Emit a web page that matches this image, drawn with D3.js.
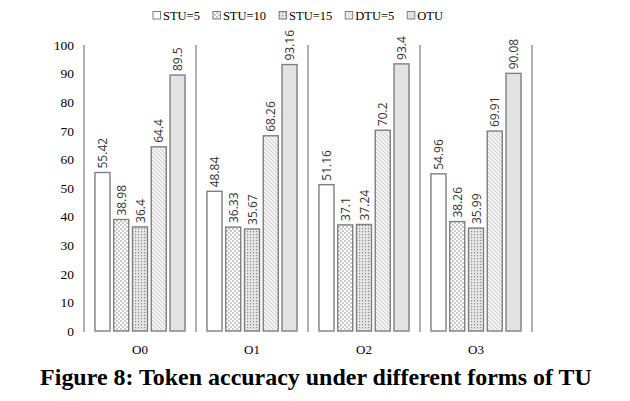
<!DOCTYPE html>
<html><head><meta charset="utf-8">
<script src="https://cdn.jsdelivr.net/npm/d3@7"></script>
<style>body{margin:0;background:#fff}svg{display:block}
.serif{font-family:"Liberation Serif","Times New Roman",serif}
.sans{font-family:"Open Sans","DejaVu Sans",sans-serif}
</style>
</head><body>
<script>
const categories = ["O0","O1","O2","O3"];
const seriesNames = ["STU=5","STU=10","STU=15","DTU=5","OTU"];
const stu5  = [55.42, 48.84, 51.16, 54.96];
const stu10 = [38.98, 36.33, 37.1, 38.26];
const stu15 = [36.4, 35.67, 37.24, 35.99];
const dtu5  = [64.4, 68.26, 70.2, 69.91];
const otu   = [89.5, 93.16, 93.4, 90.08];
const yTicks = [0,10,20,30,40,50,60,70,80,90,100];
const title = "Figure 8: Token accuracy under different forms of TU";

const series = [stu5, stu10, stu15, dtu5, otu];
const W = 630, H = 401;
const svg = d3.select("body").append("svg").attr("width", W).attr("height", H);
const defs = svg.append("defs");

// patterns
const p1 = defs.append("pattern").attr("id","chk").attr("patternUnits","userSpaceOnUse").attr("width",4).attr("height",4);
p1.append("rect").attr("width",4).attr("height",4).attr("fill","#fff");
p1.append("rect").attr("width",2).attr("height",2).attr("fill","#c8c8c8");
p1.append("rect").attr("x",2).attr("y",2).attr("width",2).attr("height",2).attr("fill","#c8c8c8");
const p2 = defs.append("pattern").attr("id","dots").attr("patternUnits","userSpaceOnUse").attr("width",3).attr("height",3);
p2.append("rect").attr("width",3).attr("height",3).attr("fill","#e6e6e6");
p2.append("rect").attr("width",1.2).attr("height",1.2).attr("fill","#8a8a8a");
const p3 = defs.append("pattern").attr("id","hatch").attr("patternUnits","userSpaceOnUse").attr("width",4).attr("height",4);
p3.append("rect").attr("width",4).attr("height",4).attr("fill","#fafafa");
p3.append("path").attr("d","M-1,-1 L5,5 M-1,3 L1,5 M3,-1 L5,1").attr("stroke","#d2d2d2").attr("stroke-width",1.2);
const fills = ["#ffffff","url(#chk)","url(#dots)","url(#hatch)","#e3e3e3"];

const y = d3.scaleLinear().domain([0,100]).range([331,45]);
const x0 = d3.scaleBand().domain(categories).range([84,532]).padding(0);
const x1 = d3.scaleBand().domain(seriesNames).range([0, x0.bandwidth()]).paddingInner(0.2).paddingOuter(0.585);

// y axis labels
const yAxis = d3.axisLeft(y).tickValues(yTicks).tickSize(0).tickPadding(10);
const ga = svg.append("g").attr("transform","translate(84,0)").call(yAxis);
ga.attr("font-family", null).attr("font-size", null);
ga.select(".domain").remove();
ga.selectAll("text").attr("class","serif").style("font-size","13.5px").attr("fill","#000");

// separators
const bounds = categories.map(c => x0(c)).concat([x0.range()[1]]);
svg.selectAll("line.sep").data(bounds).enter().append("line")
  .attr("x1", d=>d).attr("x2", d=>d).attr("y1", y(100)).attr("y2", y(0)+1)
  .attr("stroke","#8c8c8c").attr("stroke-width",1.3);

// bars
categories.forEach((c, ci) => {
  const g = svg.append("g").attr("transform", `translate(${x0(c)},0)`);
  seriesNames.forEach((s, si) => {
    const v = series[si][ci];
    g.append("rect").attr("x", x1(s)).attr("y", y(v)).attr("width", x1.bandwidth()).attr("height", y(0)-y(v))
      .attr("fill", fills[si]).attr("stroke","#7f7f7f").attr("stroke-width",1.4);
    const tx = x1(s) + x1.bandwidth()/2 + 4.5;
    g.append("text").attr("transform", `translate(${tx},${y(v)-4}) rotate(-90)`)
      .attr("class","sans").style("font-size","12px").attr("fill","#333").text(v);
  });
});

// x labels
svg.selectAll("text.cat").data(categories).enter().append("text")
  .attr("x", d => x0(d)+x0.bandwidth()/2).attr("y", 354).attr("text-anchor","middle")
  .attr("class","serif").style("font-size","13px").text(d=>d);

// legend
let lx = 153;
seriesNames.forEach((s, si) => {
  svg.append("rect").attr("x", lx).attr("y", 11.5).attr("width",7.5).attr("height",7.5)
    .attr("fill", fills[si]).attr("stroke","#7f7f7f").attr("stroke-width",1);
  const t = svg.append("text").attr("x", lx+10).attr("y", 19.5)
    .attr("class","serif").style("font-size","12.5px").text(s);
  lx += 10 + t.node().getComputedTextLength() + 13;
});

// title
const tt = svg.append("text").attr("x", 316).attr("y", 385).attr("text-anchor","middle")
  .attr("class","serif").style("font-weight","bold").style("font-size","22px").text(title);
const tw = tt.node().getComputedTextLength();
tt.style("font-size", (22*552/tw) + "px");
</script>
</body></html>
